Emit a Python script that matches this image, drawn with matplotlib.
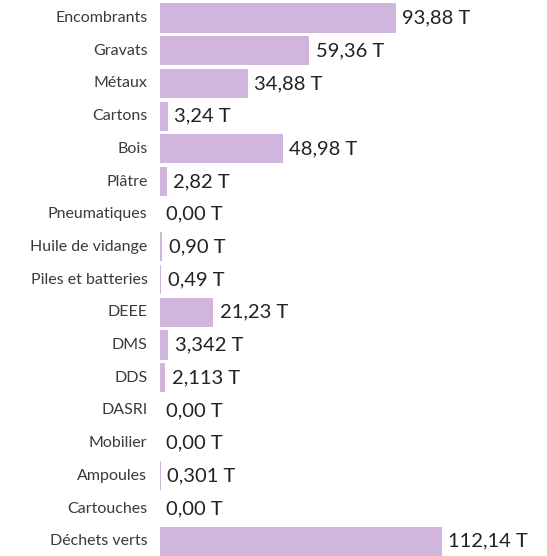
import matplotlib
matplotlib.use("Agg")
import matplotlib.pyplot as plt

categories = ["Encombrants", "Gravats", "Métaux", "Cartons", "Bois", "Plâtre",
              "Pneumatiques", "Huile de vidange", "Piles et batteries", "DEEE",
              "DMS", "DDS", "DASRI", "Mobilier", "Ampoules", "Cartouches",
              "Déchets verts"]
values = [93.88, 59.36, 34.88, 3.24, 48.98, 2.82, 0.00, 0.90, 0.49, 21.23,
          3.342, 2.113, 0.00, 0.00, 0.301, 0.00, 112.14]
labels = ["93,88 T", "59,36 T", "34,88 T", "3,24 T", "48,98 T", "2,82 T",
          "0,00 T", "0,90 T", "0,49 T", "21,23 T", "3,342 T", "2,113 T",
          "0,00 T", "0,00 T", "0,301 T", "0,00 T", "112,14 T"]

plt.rcParams['font.family'] = ['Lato', 'DejaVu Sans']

fig = plt.figure(figsize=(5.47, 5.56), dpi=100)
ax = fig.add_axes([160 / 547, 0, 387 / 547, 1])

y = range(len(categories))
ax.barh(y, values, height=0.89, color="#d0b6dc", linewidth=0)

ax.set_xlim(0, 153.9)
ax.set_ylim(16.45, -0.55)

# value labels just past the bar end, category names left of the bars
for yi, v, lab in zip(y, values, labels):
    ax.text(v + 2.5, yi, lab, va="center", ha="left", fontsize=14.5, color="#222222")

for yi, cat in zip(y, categories):
    ax.text(-5.0, yi, cat, va="center", ha="right", fontsize=11.5, color="#3a3a3a")

ax.axis("off")

fig.savefig("out.png", dpi=100)
